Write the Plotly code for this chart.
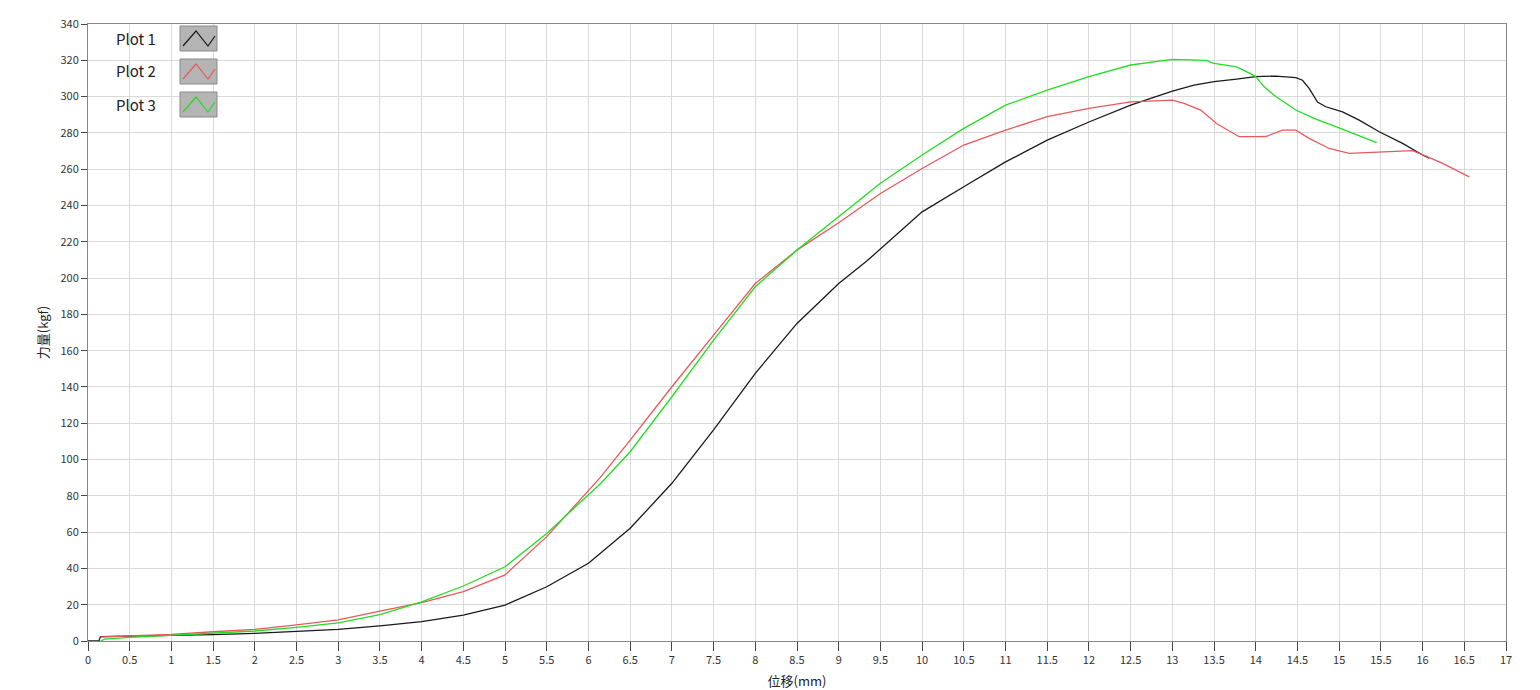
import plotly.graph_objects as go

# ---- data ----
x_plot1 = [0, 0.13, 0.15, 0.5, 1, 1.5, 2, 2.5, 3, 3.5, 4, 4.5, 5, 5.5, 6, 6.5, 7, 7.5, 8, 8.5,
           9, 9.34, 9.5, 10, 10.5, 11, 11.5, 12, 12.5, 13, 13.26, 13.5, 13.77, 14, 14.24, 14.48,
           14.56, 14.64, 14.74, 14.84, 15.04, 15.24, 15.48, 15.76, 16, 16.08]
y_plot1 = [0, 0, 2.4, 2.6, 3, 3.5, 4.2, 5.2, 6.4, 8.3, 10.7, 14.3, 19.8, 29.9, 42.8, 62.1, 86.9,
           116.3, 147.5, 175, 197, 209.5, 216, 236.5, 250.3, 264, 276, 286, 295.3, 303, 306.3,
           308.2, 309.6, 311, 311.3, 310.4, 309, 304.5, 297, 294.4, 291.6, 287, 280.6, 274.2,
           267.8, 266]

x_plot2 = [0.15, 0.5, 1, 1.5, 2, 2.5, 3, 3.5, 4, 4.5, 5, 5.5, 6, 6.14, 6.5, 7, 7.5, 8, 8.5, 9,
           9.5, 10, 10.5, 11, 11.5, 12, 12.5, 13, 13.14, 13.34, 13.53, 13.8, 14, 14.12, 14.32,
           14.48, 14.64, 14.88, 15.12, 15.52, 15.88, 16.04, 16.24, 16.56]
y_plot2 = [2.2, 2.8, 3.7, 5.1, 6.4, 8.9, 11.6, 16.5, 21.1, 27.2, 36.4, 57.5, 83, 90, 110.7,
           140.1, 168.6, 197, 215.4, 230.5, 246.6, 260.4, 273.3, 281.5, 288.9, 293.5, 297.1, 298,
           296.2, 292.6, 285.2, 277.9, 277.9, 278, 281.5, 281.5, 277, 271.4, 268.7, 269.6, 270.2,
           267.2, 263.2, 255.8]

x_plot3 = [0.15, 0.2, 0.5, 1, 1.5, 2, 2.5, 3, 3.5, 4, 4.5, 5, 5.5, 6, 6.14, 6.5, 7, 7.5, 8, 8.5,
           9, 9.5, 10, 10.5, 11, 11.5, 12, 12.5, 13, 13.4, 13.5, 13.77, 13.93, 14, 14.1, 14.24,
           14.48, 14.72, 14.96, 15.2, 15.45]
y_plot3 = [0, 1, 2, 3.2, 4.3, 5.5, 7.5, 10, 14.5, 21.5, 30.3, 40.9, 59.3, 80.5, 86.5, 104.3,
           134.6, 165.8, 195.2, 215.4, 234, 252.2, 267.8, 282.5, 295.3, 303.6, 311, 317.4, 320.5,
           320, 318.3, 316.4, 312.8, 311, 305.4, 300, 292.6, 287.6, 283.4, 279, 274.6]

series_names = ["Plot 1", "Plot 2", "Plot 3"]
series_colors = ["#1a1a1a", "#e8585c", "#22dd22"]
x_title = "位移(mm)"
y_title = "力量(kgf)"

# page body has an 8px margin; figure is sized to fit the window
OFF = 8
W, H = 1540 - OFF, 690 - OFF
# target plot-area edges in window pixels
L, R, T, B = 88, 1506, 24, 641

fig = go.Figure()
for xs, ys, name, col in zip([x_plot1, x_plot2, x_plot3], [y_plot1, y_plot2, y_plot3],
                             series_names, series_colors):
    fig.add_trace(go.Scatter(x=xs, y=ys, mode="lines", name=name,
                             line=dict(color=col, width=1.3), showlegend=False))

def px(xp):
    return (xp - L) / (R - L)

def py(yp):
    return (B - yp) / (B - T)

shapes = []
annotations = []
legend_rows = [38, 71, 104]
for name, col, yc in zip(series_names, series_colors, legend_rows):
    annotations.append(dict(x=px(158), y=py(yc), xref="paper", yref="paper", text=name,
                            showarrow=False, xanchor="right", yanchor="middle",
                            font=dict(size=15, color="#222", family="Noto Sans CJK SC")))
    shapes.append(dict(type="rect", xref="paper", yref="paper",
                       x0=px(180), x1=px(217), y0=py(yc - 12), y1=py(yc + 13),
                       fillcolor="#b4b4b4", line=dict(color="#8a8a8a", width=1)))
    path = "M {} {} L {} {} L {} {} L {} {}".format(
        px(183), py(yc + 8), px(196), py(yc - 7), px(208), py(yc + 8), px(215), py(yc - 2))
    shapes.append(dict(type="path", xref="paper", yref="paper", path=path,
                       line=dict(color=col, width=1.2)))

axis_font = dict(size=11, color="#333", family="Noto Sans CJK SC")
fig.update_layout(
    width=W, height=H,
    margin=dict(l=L - OFF, r=W - (R - OFF), t=T - OFF, b=H - (B - OFF), autoexpand=False),
    paper_bgcolor="white", plot_bgcolor="white",
    shapes=shapes, annotations=annotations,
    xaxis=dict(range=[0, 17], dtick=0.5, tick0=0, showgrid=True, gridcolor="#d9d9d9",
               gridwidth=1, ticks="outside", ticklen=9, tickcolor="#444", tickfont=axis_font,
               showline=True, linecolor="#888", mirror=True, zeroline=False, automargin=False,
               title=dict(text=x_title, font=dict(size=13, color="#222",
                                                  family="Noto Sans CJK SC"), standoff=13)),
    yaxis=dict(range=[0, 340], dtick=20, tick0=0, showgrid=True, gridcolor="#d9d9d9",
               gridwidth=1, ticks="outside", ticklen=6, tickcolor="#444", tickfont=axis_font,
               showline=True, linecolor="#888", mirror=True, zeroline=False, automargin=False,
               title=dict(text=y_title, font=dict(size=13, color="#222",
                                                  family="Noto Sans CJK SC"), standoff=8)),
)

fig.write_html("out.html")
